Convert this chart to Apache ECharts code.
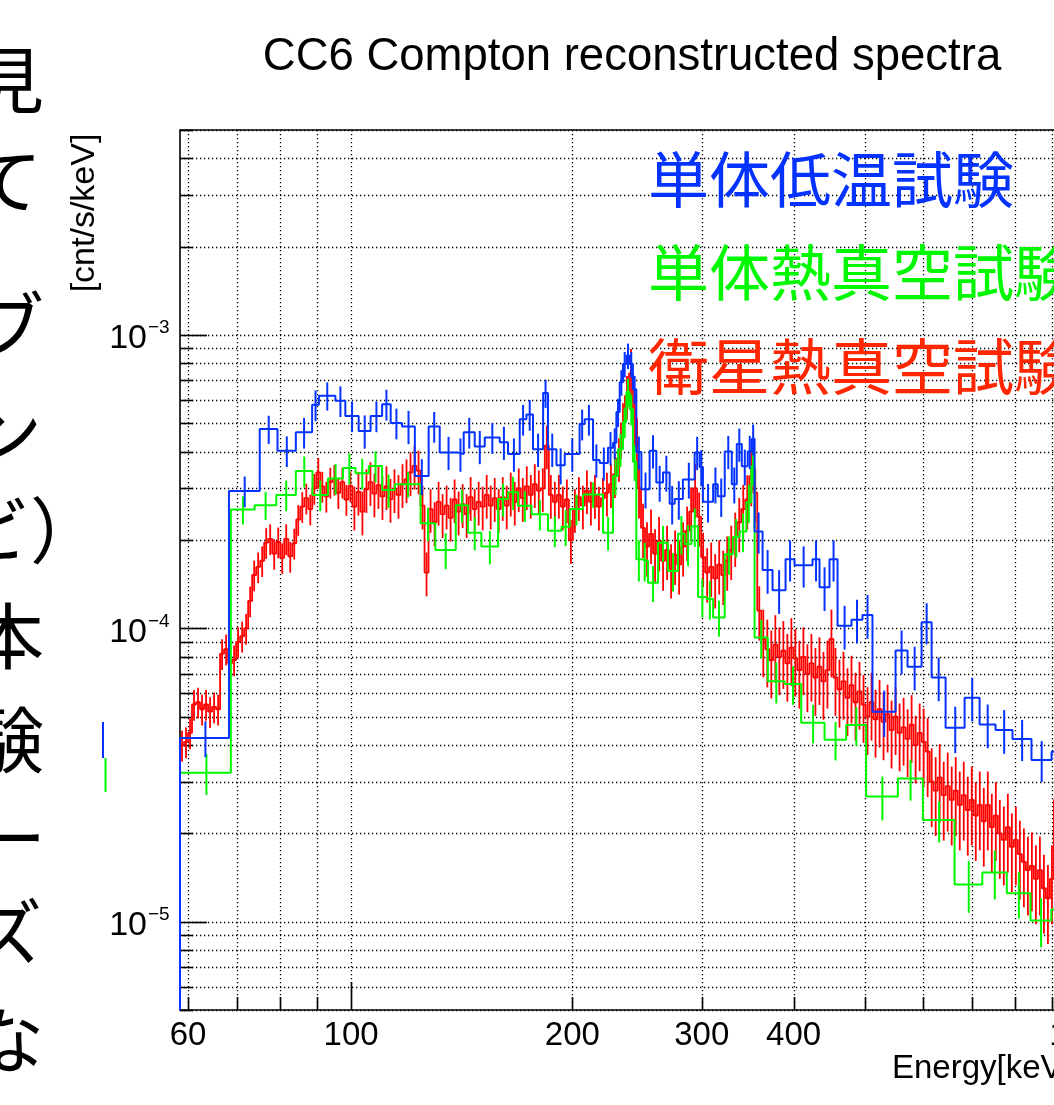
<!DOCTYPE html>
<html>
<head>
<meta charset="utf-8">
<script src="https://cdn.jsdelivr.net/npm/echarts/dist/echarts.min.js"></script>
<style>
html,body{margin:0;padding:0;background:#fff;overflow:hidden;}
#c{width:1054px;height:1105px;}
</style>
</head>
<body>
<div id="c"></div>
<script>
// ---------------- data ----------------
const X_MIN = 58.5, X_MAX = 1000;          // keV
const Y_MIN = 5e-6, Y_MAX = 5e-3;          // cnt/s/keV
const RATE_UNIT = 1e-4;                    // rates below are in units of 1e-4 cnt/s/keV

const chartTitle = 'CC6 Compton reconstructed spectra';
const xAxisTitle = 'Energy[keV]';
const yAxisTitle = '[cnt/s/keV]';
const seriesNames = ['単体低温試験', '単体熱真空試験', '衛星熱真空試験'];

const xGridValues = [60, 70, 80, 90, 100, 200, 300, 400, 500, 600, 700, 800, 900, 1000];
const xTickLabels = [60, 100, 200, 300, 400, 1000];
const yGridMantissas = [1, 2, 3, 4, 5, 6, 7, 8, 9];
const yGridDecades = [-6, -5, -4, -3];
const yTickLabelExponents = [-5, -4, -3];

// 単体低温試験 (blue)
const blueEdges = [58.5, 68.2, 75.1, 79.4, 84.1, 88.5, 90.4, 95.2, 98.2, 102.4,
  106.3, 110.2, 113.2, 117.3, 122.1, 127.5, 132.0, 139.4, 142.3, 147.3,
  152.0, 159.3, 163.5, 169.6, 173.2, 176.8, 182.5, 185.3, 190.3, 195.3,
  204.6, 207.9, 213.4, 217.9, 223.6, 227.2, 229.6, 232.0, 234.4, 236.9,
  239.3, 241.8, 244.4, 248.3, 254.8, 260.2, 265.7, 271.3, 275.6, 282.8,
  293.4, 298.0, 301.1, 310.9, 315.4, 322.4, 329.6, 334.8, 340.1, 346.5,
  350.9, 354.0, 363.0, 374.5, 390.1, 401.2, 424.5, 433.9, 447.7, 459.1,
  479.6, 496.4, 512.2, 550.6, 571.7, 597.4, 616.5, 644.1, 683.6, 716.5,
  753.3, 794.3, 843.0, 897.7, 1000];
const blueRates = [0.423, 2.94, 4.78, 4.03, 4.66, 5.78, 6.21, 5.97, 5.30, 4.71,
  5.30, 5.81, 5.01, 4.88, 3.31, 4.88, 3.98, 3.93, 4.66, 4.17,
  4.47, 4.31, 3.93, 5.16, 5.36, 4.08, 6.34, 4.08, 3.60, 3.93,
  4.97, 5.16, 3.75, 3.66, 4.13, 4.29, 5.46, 6.90, 7.96, 8.50,
  7.96, 6.54, 3.99, 2.98, 4.03, 3.14, 3.40, 2.66, 2.76, 3.22,
  3.98, 3.55, 2.70, 3.10, 2.82, 4.01, 3.10, 4.25, 3.57, 4.01,
  4.42, 2.14, 1.58, 1.35, 1.72, 1.64, 1.72, 1.38, 1.72, 1.02,
  1.07, 1.11, 0.52, 0.84, 0.74, 1.05, 0.68, 0.458, 0.58, 0.47,
  0.45, 0.42, 0.356, 0.38];
const blueRelErr = [0.14, 0.12, 0.11, 0.12, 0.12, 0.12, 0.11, 0.12, 0.12, 0.13,
  0.12, 0.12, 0.12, 0.13, 0.14, 0.12, 0.13, 0.13, 0.12, 0.13,
  0.12, 0.13, 0.13, 0.12, 0.12, 0.13, 0.11, 0.13, 0.14, 0.13,
  0.12, 0.12, 0.13, 0.13, 0.13, 0.12, 0.11, 0.10, 0.10, 0.10,
  0.10, 0.11, 0.13, 0.14, 0.13, 0.14, 0.14, 0.15, 0.15, 0.14,
  0.13, 0.14, 0.15, 0.14, 0.15, 0.13, 0.14, 0.13, 0.14, 0.13,
  0.12, 0.16, 0.17, 0.17, 0.16, 0.16, 0.16, 0.17, 0.16, 0.17,
  0.17, 0.17, 0.18, 0.17, 0.17, 0.16, 0.17, 0.18, 0.17, 0.17,
  0.17, 0.16, 0.16, 0.16];

// 単体熱真空試験 (green)
const greenEdges = [58.5, 68.6, 73.9, 79.1, 84.1, 88.6, 93.0, 97.5, 101.4, 105.7,
  110.2, 114.7, 124.3, 130.2, 138.8, 144.2, 150.4, 158.5, 163.5, 168.7,
  176.0, 185.3, 193.3, 198.4, 206.8, 220.2, 227.2, 230.8, 234.4, 236.9,
  239.3, 241.8, 244.4, 248.3, 253.5, 261.6, 269.9, 278.5, 284.4, 290.4,
  296.6, 304.5, 310.9, 322.4, 330.7, 337.7, 345.0, 350.4, 354.0, 369.0,
  388.9, 409.7, 440.8, 471.7, 502.1, 554.6, 599.8, 662.5, 722.6, 780.3,
  840.4, 896.9, 1000];
const greenRates = [0.322, 2.54, 2.63, 2.85, 3.44, 2.85, 3.24, 3.52, 3.38, 3.58,
  2.96, 3.10, 2.28, 1.85, 2.63, 2.12, 1.90, 2.76, 2.91, 2.62,
  2.45, 2.15, 2.22, 2.55, 2.86, 2.12, 3.31, 4.08, 5.05, 6.39,
  5.59, 3.70, 1.72, 1.70, 1.43, 1.96, 1.57, 2.10, 1.94, 2.23,
  1.28, 1.26, 1.09, 1.79, 2.05, 2.14, 2.69, 3.57, 0.93, 0.66,
  0.646, 0.477, 0.417, 0.468, 0.267, 0.308, 0.222, 0.134, 0.147, 0.125,
  0.101, 0.11];
const greenRelErr = [0.16, 0.11, 0.11, 0.12, 0.12, 0.12, 0.12, 0.12, 0.12, 0.12,
  0.13, 0.10, 0.13, 0.14, 0.13, 0.13, 0.13, 0.13, 0.13, 0.12,
  0.12, 0.12, 0.14, 0.12, 0.10, 0.13, 0.14, 0.13, 0.12, 0.11,
  0.12, 0.14, 0.16, 0.15, 0.14, 0.14, 0.15, 0.15, 0.16, 0.15,
  0.15, 0.15, 0.14, 0.15, 0.15, 0.15, 0.15, 0.14, 0.15, 0.16,
  0.15, 0.15, 0.15, 0.15, 0.17, 0.16, 0.16, 0.20, 0.19, 0.18,
  0.19, 0.20];

// 衛星熱真空試験 (red): log-spaced bins over redRange
const redRange = [58.5, 1000];
const redRates = [
  0.40, 0.41, 0.44, 0.55, 0.56, 0.53, 0.55, 0.52, 0.54, 0.53,
  0.82, 0.85, 0.76, 0.78, 0.90, 0.94, 1.00, 1.24, 1.52, 1.62,
  1.70, 1.96, 2.02, 1.80, 1.97, 1.74, 2.02, 1.76, 1.95, 2.35,
  2.60, 2.78, 2.55, 3.00, 3.40, 3.05, 2.82, 3.15, 3.22, 2.90,
  3.15, 2.75, 3.06, 2.60, 2.92, 2.50, 2.98, 3.15, 2.88, 3.08,
  2.82, 3.05, 2.76, 2.98, 2.85, 3.10, 3.22, 3.40, 3.58, 3.45,
  2.62, 1.55, 2.55, 2.30, 2.70, 2.45, 2.62, 2.38, 2.75, 2.50,
  2.65, 2.45, 2.80, 2.55, 2.70, 2.60, 2.85, 2.62, 2.78, 2.55,
  2.80, 2.62, 2.90, 2.70, 3.00, 2.78, 3.05, 2.85, 3.10, 2.95,
  3.00, 4.20, 2.85, 2.70, 2.85, 2.60, 2.75, 2.00, 2.55, 2.80,
  2.62, 2.95, 2.70, 2.85, 2.60, 2.78, 2.90, 3.10, 3.35, 3.80,
  5.00, 6.20, 7.40, 5.20, 3.00, 2.20, 1.90, 2.10, 1.80, 1.98,
  1.70, 1.85, 1.60, 1.78, 1.65, 1.90, 2.15, 2.50, 3.00, 2.40,
  1.75, 1.55, 1.62, 1.48, 1.65, 1.52, 1.70, 1.85, 2.05, 2.30,
  2.55, 2.75, 3.30, 2.90, 1.15, 0.92, 0.85, 0.78, 0.88, 0.80,
  0.84, 0.76, 0.86, 0.79, 0.72, 0.80, 0.70, 0.76, 0.68, 0.74,
  0.66, 0.72, 0.92, 0.68, 0.62, 0.66, 0.58, 0.64, 0.56, 0.61,
  0.55, 0.50, 0.56, 0.49, 0.53, 0.48, 0.51, 0.45, 0.50, 0.44,
  0.46, 0.42, 0.47, 0.40, 0.44, 0.41, 0.38, 0.30, 0.28, 0.31,
  0.27, 0.29, 0.26, 0.28, 0.25, 0.27, 0.24, 0.26, 0.23, 0.25,
  0.22, 0.25, 0.21, 0.23, 0.20, 0.19, 0.21, 0.18, 0.19, 0.17,
  0.16, 0.15, 0.155, 0.14, 0.15, 0.13, 0.12, 0.14, 0.26, 0.30,
  0.22, 0.20, 0.18, 0.17, 0.16, 0.15];
// relative error of the red bins, by upper energy limit of each band
const redRelErrBands = [[100, 0.12], [240, 0.17], [360, 0.21], [600, 0.26], [1000, 0.30]];

// ---------------- styles ----------------
const COLORS = { blue: '#0433ff', green: '#00f900', red: '#ff0000', redText: '#ff2600' };
const LATIN = '"Liberation Sans", Arial, Helvetica, sans-serif';
const CJK = '"Noto Sans CJK JP", "Noto Sans CJK SC", sans-serif';

// ---------------- helpers ----------------
function isDecade(v) {
  const l = Math.log10(v);
  return Math.abs(l - Math.round(l)) < 1e-9;
}
function logEdges(range, n) {
  const l0 = Math.log10(range[0]), l1 = Math.log10(range[1]);
  const e = [];
  for (let i = 0; i <= n; i++) e.push(Math.pow(10, l0 + (l1 - l0) * i / n));
  return e;
}
function stepPoints(edges, rates) {
  const n = Math.min(rates.length, edges.length - 1);
  const pts = [[edges[0], Y_MIN]];
  for (let i = 0; i < n; i++) {
    const v = rates[i] * RATE_UNIT;
    pts.push([edges[i], v], [edges[i + 1], v]);
  }
  return pts;
}
function errPoints(edges, rates, relErrAt) {
  const n = Math.min(rates.length, edges.length - 1);
  const out = [];
  for (let i = 0; i < n; i++) {
    const c = (edges[i] + edges[i + 1]) / 2;
    out.push([c, rates[i] * RATE_UNIT, relErrAt(i, c)]);
  }
  return out;
}
function redErrAt(i, c) {
  for (const b of redRelErrBands) if (c <= b[0]) return b[1];
  return redRelErrBands[redRelErrBands.length - 1][1];
}

const redEdges = logEdges(redRange, redRates.length);

function lineSeries(name, pts, color, width, z) {
  return {
    name, type: 'line', data: pts, showSymbol: false, symbol: 'none',
    lineStyle: { color, width }, itemStyle: { color }, clip: true,
    silent: true, animation: false, z
  };
}
function errSeries(name, data, color, width, z) {
  return {
    name: name + ' err', type: 'custom', coordinateSystem: 'cartesian2d',
    data, clip: true, silent: true, animation: false, z,
    renderItem(params, api) {
      const x = api.value(0), v = api.value(1), e = api.value(2);
      const a = api.coord([x, v * (1 + e)]);
      const b = api.coord([x, Math.max(v * (1 - e), Y_MIN)]);
      return { type: 'line', shape: { x1: a[0], y1: a[1], x2: b[0], y2: b[1] },
        style: { stroke: color, lineWidth: width } };
    }
  };
}

const yGridValues = [];
yGridDecades.forEach(d => yGridMantissas.forEach(m => {
  const v = m * Math.pow(10, d);
  if (v >= Y_MIN * 0.999 && v <= Y_MAX * 1.001) yGridValues.push(v);
}));

const DOT = [1.3, 2.7];
const gridXSeries = {
  type: 'custom', coordinateSystem: 'cartesian2d', clip: false, silent: true, z: 1,
  data: xGridValues.map(v => [v, Y_MIN]),
  renderItem(params, api) {
    const v = api.value(0);
    const t = api.coord([v, Y_MAX]), b = api.coord([v, Y_MIN]);
    const x = Math.round(t[0]) + 0.5;
    const len = isDecade(v) ? 28 : 13;
    return { type: 'group', children: [
      { type: 'line', shape: { x1: x, y1: t[1], x2: x, y2: b[1] },
        style: { stroke: '#000', lineWidth: 1.3, lineDash: DOT } },
      { type: 'line', shape: { x1: x, y1: b[1], x2: x, y2: b[1] - len },
        style: { stroke: '#000', lineWidth: 1.6 } }
    ] };
  }
};
const gridYSeries = {
  type: 'custom', coordinateSystem: 'cartesian2d', clip: false, silent: true, z: 1,
  data: yGridValues.map(v => [X_MIN, v]),
  renderItem(params, api) {
    const v = api.value(1);
    const l = api.coord([X_MIN, v]), r = api.coord([X_MAX, v]);
    const y = Math.round(l[1]) + 0.5;
    const len = isDecade(v) ? 27 : 13;
    return { type: 'group', children: [
      { type: 'line', shape: { x1: l[0], y1: y, x2: r[0], y2: y },
        style: { stroke: '#000', lineWidth: 1.3, lineDash: DOT } },
      { type: 'line', shape: { x1: l[0], y1: y, x2: l[0] + len, y2: y },
        style: { stroke: '#000', lineWidth: 1.6 } }
    ] };
  }
};
const xLabelSeries = {
  type: 'custom', coordinateSystem: 'cartesian2d', clip: false, silent: true, z: 20,
  data: xTickLabels.map(v => [v, Y_MIN]),
  renderItem(params, api) {
    const v = api.value(0);
    const p = api.coord([v, Y_MIN]);
    return { type: 'text', x: p[0], y: p[1] + 26,
      style: { text: String(v), fill: '#000', fontSize: 33, fontFamily: LATIN,
        align: 'center', verticalAlign: 'middle' } };
  }
};
const yLabelSeries = {
  type: 'custom', coordinateSystem: 'cartesian2d', clip: false, silent: true, z: 20,
  data: yTickLabelExponents.map(e => [X_MIN, Math.pow(10, e), e]),
  renderItem(params, api) {
    const e = api.value(2);
    const p = api.coord([X_MIN, api.value(1)]);
    const xr = p[0] - 33;
    return { type: 'group', children: [
      { type: 'text', x: xr, y: p[1] + 4,
        style: { text: '10', fill: '#000', fontSize: 34, fontFamily: LATIN,
          align: 'right', verticalAlign: 'middle' } },
      { type: 'text', x: xr + 1, y: p[1] - 7,
        style: { text: '\u2212' + String(-e), fill: '#000', fontSize: 19, fontFamily: LATIN,
          align: 'left', verticalAlign: 'middle' } }
    ] };
  }
};

// side text fragments of the surrounding slide (cropped at the left edge)
const sideFragments = [
  ['見', -28, 80], ['て', -30, 180], ['ブ', -28, 325], ['ン', -30, 432],
  ['ビ）', -42, 530], ['本', -28, 636], ['験', -28, 740], ['ー', -26, 838],
  ['ズ', -30, 932], ['な', -28, 1040]
];

const graphic = [
  { type: 'text', x: 632, y: 57, z: 100,
    style: { text: chartTitle, fill: '#000', fontSize: 45.5, fontFamily: LATIN,
      align: 'center', verticalAlign: 'middle' } },
  { type: 'text', x: 892, y: 1069, z: 100,
    style: { text: xAxisTitle, fill: '#000', fontSize: 33, fontFamily: LATIN,
      align: 'left', verticalAlign: 'middle' } },
  { type: 'text', x: 85, y: 213, rotation: Math.PI / 2, z: 100,
    style: { text: yAxisTitle, fill: '#000', fontSize: 34, fontFamily: LATIN,
      align: 'center', verticalAlign: 'middle' } },
  { type: 'text', x: 648, y: 180, z: 100,
    style: { text: seriesNames[0], fill: COLORS.blue, fontSize: 61, fontFamily: CJK,
      align: 'left', verticalAlign: 'middle' } },
  { type: 'text', x: 648, y: 273, z: 100,
    style: { text: seriesNames[1], fill: COLORS.green, fontSize: 61, fontFamily: CJK,
      align: 'left', verticalAlign: 'middle' } },
  { type: 'text', x: 648, y: 367, z: 100,
    style: { text: seriesNames[2], fill: COLORS.redText, fontSize: 61, fontFamily: CJK,
      align: 'left', verticalAlign: 'middle' } },
  { type: 'line', z: 100, shape: { x1: 103, y1: 722, x2: 103, y2: 758 },
    style: { stroke: COLORS.blue, lineWidth: 2 } },
  { type: 'line', z: 100, shape: { x1: 105.5, y1: 758, x2: 105.5, y2: 792 },
    style: { stroke: COLORS.green, lineWidth: 2 } }
].concat(sideFragments.map(f => ({
  type: 'text', x: f[1], y: f[2], z: 100,
  style: { text: f[0], fill: '#000', fontSize: 72, fontFamily: CJK,
    align: 'left', verticalAlign: 'middle' }
})));

const chart = echarts.init(document.getElementById('c'), null, { renderer: 'canvas' });
chart.setOption({
  animation: false,
  backgroundColor: '#fff',
  grid: { left: 180, top: 130, width: 906, height: 880, show: true,
    borderColor: '#000', borderWidth: 1.6, backgroundColor: 'transparent',
    containLabel: false, outerBoundsMode: 'none' },
  xAxis: { type: 'log', logBase: 10, min: X_MIN, max: X_MAX, show: false },
  yAxis: { type: 'log', logBase: 10, min: Y_MIN, max: Y_MAX, show: false },
  graphic,
  series: [
    gridXSeries, gridYSeries,
    lineSeries(seriesNames[2], stepPoints(redEdges, redRates), COLORS.red, 1.8, 3),
    errSeries(seriesNames[2], errPoints(redEdges, redRates, redErrAt), COLORS.red, 1.8, 3),
    lineSeries(seriesNames[1], stepPoints(greenEdges, greenRates), COLORS.green, 2, 4),
    errSeries(seriesNames[1], errPoints(greenEdges, greenRates, i => greenRelErr[i]), COLORS.green, 2, 4),
    lineSeries(seriesNames[0], stepPoints(blueEdges, blueRates), COLORS.blue, 2, 5),
    errSeries(seriesNames[0], errPoints(blueEdges, blueRates, i => blueRelErr[i]), COLORS.blue, 2, 5),
    xLabelSeries, yLabelSeries
  ]
});
</script>
</body>
</html>
